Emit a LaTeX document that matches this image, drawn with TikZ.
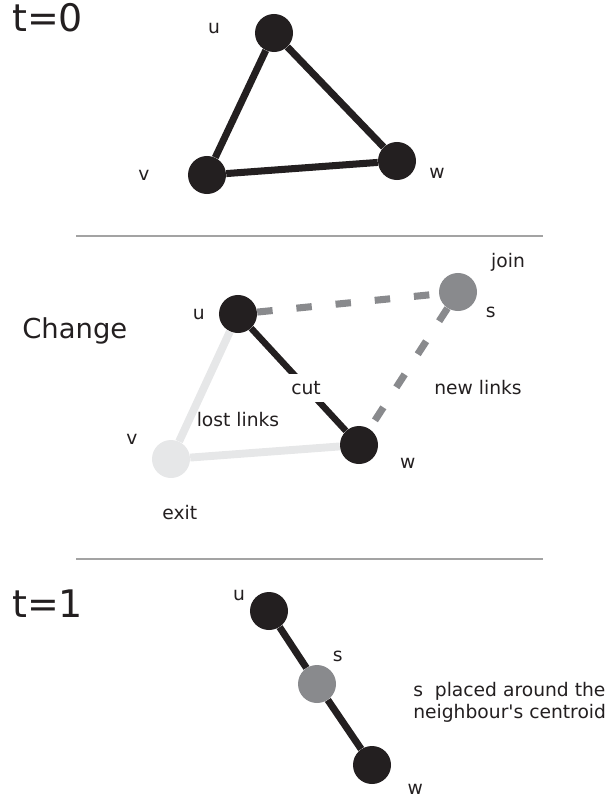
\documentclass[tikz,border=0pt]{standalone}
\usepackage{fontspec}
\setmainfont{DejaVu Sans}
\usepackage{tikz}
\usetikzlibrary{positioning}
\definecolor{vblack}{HTML}{231F20}
\definecolor{vgrey}{HTML}{898A8D}
\definecolor{vlight}{HTML}{E6E7E8}
\definecolor{rulegrey}{HTML}{A3A3A3}
\tikzset{
  vtx/.style={circle, minimum size=0.95cm, inner sep=0pt},
  blackvtx/.style={vtx, fill=vblack},
  greyvtx/.style={vtx, fill=vgrey},
  lightvtx/.style={vtx, fill=vlight},
  lbl/.style={font=\fontsize{13.3}{15.6}\selectfont, text=vblack, inner sep=0pt, on grid},
  stamp/.style={font=\fontsize{27}{30}\selectfont, text=vblack, inner sep=0pt, anchor=west},
  link/.style={draw=vblack, line width=5pt},
  lostlink/.style={draw=vlight, line width=5.6pt},
  newlink/.style={draw=vgrey, line width=5pt, dash pattern=on 11pt off 17pt},
  divider/.style={draw=rulegrey, line width=2pt},
}
\begin{document}
\begin{tikzpicture}[x=0.025cm, y=-0.025cm]
\useasboundingbox (0,0) rectangle (606,800);

% t = 0
\node[stamp] (tzero) at (12,18) {t=0};
\node[blackvtx] (u0) at (274,33) {};
\node[blackvtx] (v0) at (207,175) {};
\node[blackvtx] (w0) at (397,161) {};
\node[lbl, above left=0.12cm and 1.5cm of u0] (u0l) {u};
\node[lbl, left=1.58cm of v0] (v0l) {v};
\node[lbl, below right=0.3cm and 1.0cm of w0] (w0l) {w};
\draw[link] (u0) -- (v0);
\draw[link] (v0) -- (w0);
\draw[link] (w0) -- (u0);

\coordinate (sepa) at (76,236);
\coordinate (sepb) at (543,236);
\draw[divider] (sepa) -- (sepb);

% change
\node[stamp, font=\fontsize{19.5}{22}\selectfont] (chg) at (22,331) {Change};
\node[blackvtx] (u1) at (238,314) {};
\node[greyvtx] (s1) at (458,292) {};
\node[lightvtx] (v1) at (171,459) {};
\node[blackvtx] (w1) at (359,445) {};
\node[lbl, left=0.98cm of u1] (u1l) {u};
\node[lbl, above right=0.75cm and 1.25cm of s1] (join) {join};
\node[lbl, below right=0.5cm and 0.82cm of s1] (s1l) {s};
\node[lbl, above left=0.5cm and 0.98cm of v1] (v1l) {v};
\node[lbl, below right=1.35cm and 0.22cm of v1] (exit) {exit};
\node[lbl, below right=0.45cm and 1.22cm of w1] (w1l) {w};
\draw[lostlink] (u1) -- (v1);
\draw[lostlink] (v1) -- (w1);
\draw[newlink] (u1) -- (s1);
\draw[newlink] (s1) -- (w1);
\draw[link, line width=4.6pt] (u1) -- (w1);
\node[lbl, fill=white, inner xsep=2pt, inner ysep=5pt] (cut) at (306,388) {cut};
\node[lbl] (lost) at (238,420) {lost links};
\node[lbl] (new) at (478,388) {new links};

\coordinate (sepc) at (76,559);
\coordinate (sepd) at (543,559);
\draw[divider] (sepc) -- (sepd);

% t = 1
\node[stamp] (tone) at (12,604) {t=1};
\node[blackvtx] (u2) at (269,611) {};
\node[greyvtx] (s2) at (317,684) {};
\node[blackvtx] (w2) at (372,765) {};
\node[lbl, above left=0.38cm and 0.75cm of u2] (u2l) {u};
\node[lbl, above right=0.68cm and 0.52cm of s2] (s2l) {s};
\node[lbl, below right=0.62cm and 1.08cm of w2] (w2l) {w};
\draw[link] (u2) -- (s2);
\draw[link] (s2) -- (w2);
\node[lbl, anchor=west, align=left] (note) at (413,702) {s\ \ placed around the\\neighbour\textquotesingle s centroid};
\end{tikzpicture}
\end{document}
